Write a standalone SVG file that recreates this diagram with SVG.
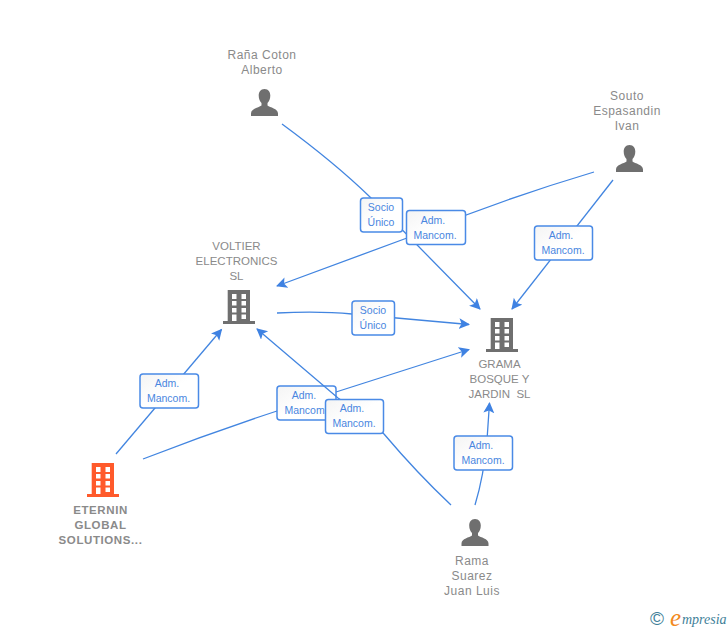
<svg xmlns="http://www.w3.org/2000/svg" width="728" height="630" viewBox="0 0 728 630">
<style>
text{font-family:"Liberation Sans",Arial,sans-serif}
.n{font-size:12px;fill:#8a8a8a;text-anchor:middle;letter-spacing:.5px}
.c{font-size:11.500px;letter-spacing:0}
.b{font-size:11.500px;font-weight:bold;letter-spacing:.6px}
.e{fill:none;stroke:#4285e0;stroke-width:1.3}
.l rect{fill:url(#g);stroke:#4a8ae6;stroke-width:1.5}
.l text{font-size:10.500px;fill:#4a86e0;text-anchor:middle}
</style>
<defs>
<linearGradient id="g" x1="0" y1="0" x2="1" y2="1"><stop offset="0" stop-color="#f4f4f4"/><stop offset=".5" stop-color="#fff"/></linearGradient>
<marker id="a" markerUnits="userSpaceOnUse" markerWidth="12" markerHeight="12" refX="10" refY="5.500" orient="auto"><path d="M0 0L11 5.500L0 11L2.500 5.500Z" fill="#3f82e2"/></marker>
<g id="bld"><path fill-rule="evenodd" d="M4.700 0H27V31H32V34H0V31H4.700ZM9 4V9H13.500V4ZM18.500 4V9H23V4ZM9 11V15.500H13.500V11ZM18.500 11V15.500H23V11ZM9 18V22.500H13.500V18ZM18.500 18V22.500H23V18ZM9 24.500V31H13.500V24.500ZM18.500 24.500V29H23V24.500Z"/></g>
<path id="per" d="M13.500 0C9.500 0 7.700 3 7.700 6.500C7.700 10 9 12.500 10.500 14V16.500C8 18.500 0 19.500 0 24.500V27H27V24.500C27 19.500 19 18.500 16.500 16.500V14C18 12.500 19.300 10 19.300 6.500C19.300 3 17.500 0 13.500 0Z"/>
</defs>
<g class="l" id="label-eternin-grama"><rect x="277" y="386" width="59" height="34" rx="3"/><text x="304" y="399">Adm.</text><text x="306" y="414">Mancom.</text></g>
<g id="connectors">
<path class="e" marker-end="url(#a)" d="M282 124Q335 163 370 197L480 309"/>
<path class="e" marker-end="url(#a)" d="M594 172Q500 200 407 238L277 286"/>
<path class="e" marker-end="url(#a)" d="M613 180L512 309"/>
<path class="e" marker-end="url(#a)" d="M277 313Q320 311 352 314L469 324.500"/>
<path class="e" marker-end="url(#a)" d="M116 454L221.500 329.500"/>
<path class="e" d="M143 459Q210 433 277 411"/>
<path class="e" marker-end="url(#a)" d="M336 392L469 349.500"/>
<path class="e" marker-end="url(#a)" d="M451 505Q417 473 384 434Q360 412 338 398L257 329"/>
<path class="e" marker-end="url(#a)" d="M475 505Q484 475 487 440L489.500 403"/>
</g>
<g id="node-rana" class="n"><text x="262" y="59">Raña Coton</text><text x="262" y="74">Alberto</text><use href="#per" x="251" y="89" fill="#6f6f6f"/></g>
<g id="node-souto" class="n"><text x="627" y="100">Souto</text><text x="627" y="115">Espasandin</text><text x="627" y="130">Ivan</text><use href="#per" x="616" y="145" fill="#6f6f6f"/></g>
<g id="node-voltier" class="n"><text class="c" x="236.500" y="250">VOLTIER</text><text class="c" x="236.500" y="265">ELECTRONICS</text><text class="c" x="236.500" y="280">SL</text><use href="#bld" x="223" y="290" fill="#6f6f6f"/></g>
<g id="node-grama" class="n"><use href="#bld" x="486" y="318" fill="#6f6f6f"/><text class="c" x="499.500" y="368">GRAMA</text><text class="c" x="499.500" y="383">BOSQUE Y</text><text class="c" x="499.500" y="398" xml:space="preserve">JARDIN  SL</text></g>
<g id="node-eternin" class="n"><use href="#bld" x="87" y="463" fill="#ff5a2b"/><text class="b" x="100.500" y="514">ETERNIN</text><text class="b" x="100.500" y="529">GLOBAL</text><text class="b" x="100.500" y="544">SOLUTIONS...</text></g>
<g id="node-rama" class="n"><use href="#per" x="461.500" y="519" fill="#6f6f6f"/><text x="472" y="565">Rama</text><text x="472" y="580">Suarez</text><text x="472" y="595">Juan Luis</text></g>
<g id="labels">
<g class="l"><rect x="360.500" y="198" width="42" height="34" rx="3"/><text x="381" y="211">Socio</text><text x="381" y="226">Único</text></g>
<g class="l"><rect x="406.500" y="210.500" width="59" height="34" rx="3"/><text x="433" y="224">Adm.</text><text x="435" y="239">Mancom.</text></g>
<g class="l"><rect x="534.500" y="226" width="58" height="34" rx="3"/><text x="561" y="239">Adm.</text><text x="563" y="254">Mancom.</text></g>
<g class="l"><rect x="352" y="301" width="42.500" height="34" rx="3"/><text x="373" y="314">Socio</text><text x="373" y="329">Único</text></g>
<g class="l"><rect x="140" y="374" width="58.500" height="34" rx="3"/><text x="167" y="387">Adm.</text><text x="168.500" y="402">Mancom.</text></g>
<g class="l"><rect x="325.500" y="399.500" width="58" height="34" rx="3"/><text x="352" y="412">Adm.</text><text x="354" y="427">Mancom.</text></g>
<g class="l"><rect x="454" y="436" width="58.500" height="34" rx="3"/><text x="481" y="449">Adm.</text><text x="483" y="464">Mancom.</text></g>
</g>
<g id="logo"><text x="650" y="625" font-size="19" fill="#3f7f99">©</text><text x="670" y="626" font-size="25" font-style="italic" fill="#f28a1e" style="font-family:'Liberation Serif',serif">e</text><text x="682" y="624" font-size="14" font-style="italic" fill="#3f7f99" style="font-family:'Liberation Serif',serif">mpresia</text></g>
</svg>
